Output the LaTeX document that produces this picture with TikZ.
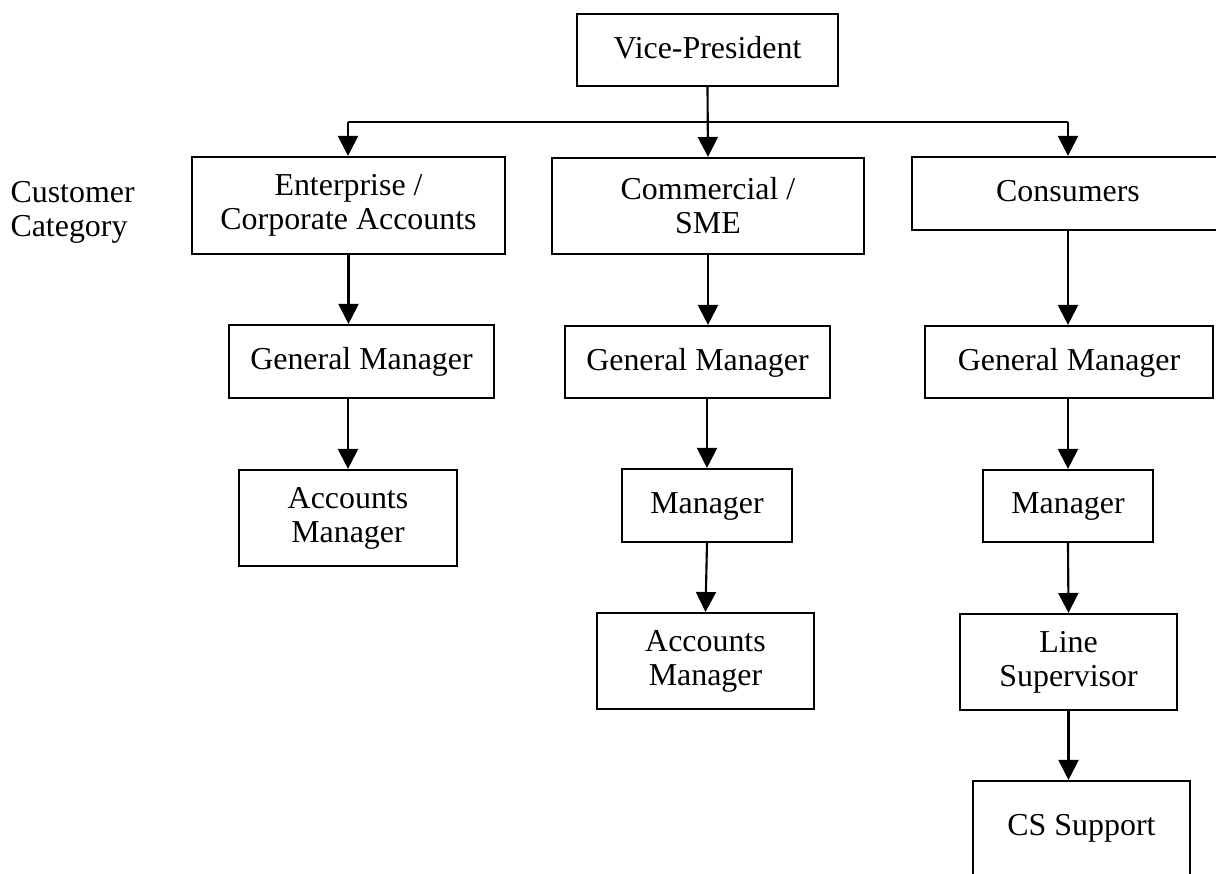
\documentclass[tikz,border=0pt]{standalone}
\usepackage{fontspec}
\setmainfont{Liberation Serif}
\usetikzlibrary{arrows.meta}

\begin{document}
\begin{tikzpicture}[x=0.376pt,y=-0.376pt,
    every node/.style={font=\fontsize{12}{12.8}\selectfont},
    box/.style n args={2}{draw,line width=0.8pt,align=center,inner sep=0pt,
      minimum width=#1*0.376pt,minimum height=#2*0.376pt},
    one/.style={text depth=0.22em},
    link/.style={line width=0.8pt,-{Triangle[length=7.5pt,width=7.5pt]}}]
        \useasboundingbox (0,0) rectangle (1216,874);
        \clip (0,0) rectangle (1216,874);
        % top
        \node[box={261}{72},one] (vp) at (707.5,50) {Vice-President};
        % customer categories
        \node[anchor=north west,inner sep=0pt,align=left] (cat) at (10,181) {Customer\\Category};
        \node[box={313}{97}] (ent) at (348.5,205.5) {Enterprise /\\Corporate Accounts};
        \node[box={312}{96}] (com) at (708,206) {Commercial /\\SME};
        \node[box={312}{73},one] (con) at (1068,193.5) {Consumers};
        % enterprise column
        \node[box={265}{73},one] (gml) at (361.5,361.5) {General Manager};
        \node[box={218}{96}] (aml) at (348,518) {Accounts\\Manager};
        % commercial column
        \node[box={265}{72},one] (gmm) at (697.5,362) {General Manager};
        \node[box={170}{73},one] (mgrm) at (707,505.5) {Manager};
        \node[box={217}{96}] (amm) at (705.5,661) {Accounts\\Manager};
        % consumers column
        \node[box={288}{72},one] (gmr) at (1069,362) {General Manager};
        \node[box={170}{72},one] (mgrr) at (1068,506) {Manager};
        \node[box={217}{96}] (ls) at (1068.5,662) {Line\\Supervisor};
        \node[box={217}{122}] (cs) at (1081.5,842) {CS Support\\\mbox{}};
        % connectors
        \coordinate (hl) at (348,122);
        \coordinate (hr) at (1068,122);
        \draw[line width=0.8pt] (hl) -- (hr);
        \draw[link] (vp.south) -- (com.north);
        \draw[link] (hl) -- (hl |- ent.north);
        \draw[link] (hr) -- (hr |- con.north);
        \draw[link] (ent.south) -- (ent.south |- gml.north);
        \draw[link] (gml.south -| aml.north) -- (aml.north);
        \draw[link] (com.south) -- (com.south |- gmm.north);
        \draw[link] (gmm.south -| mgrm.north) -- (mgrm.north);
        \draw[link] (mgrm.south) -- (amm.north);
        \draw[link] (con.south) -- (con.south |- gmr.north);
        \draw[link] (gmr.south -| mgrr.north) -- (mgrr.north);
        \draw[link] (mgrr.south) -- (ls.north);
        \draw[link] (ls.south) -- (ls.south |- cs.north);
      \end{tikzpicture}
\end{document}
